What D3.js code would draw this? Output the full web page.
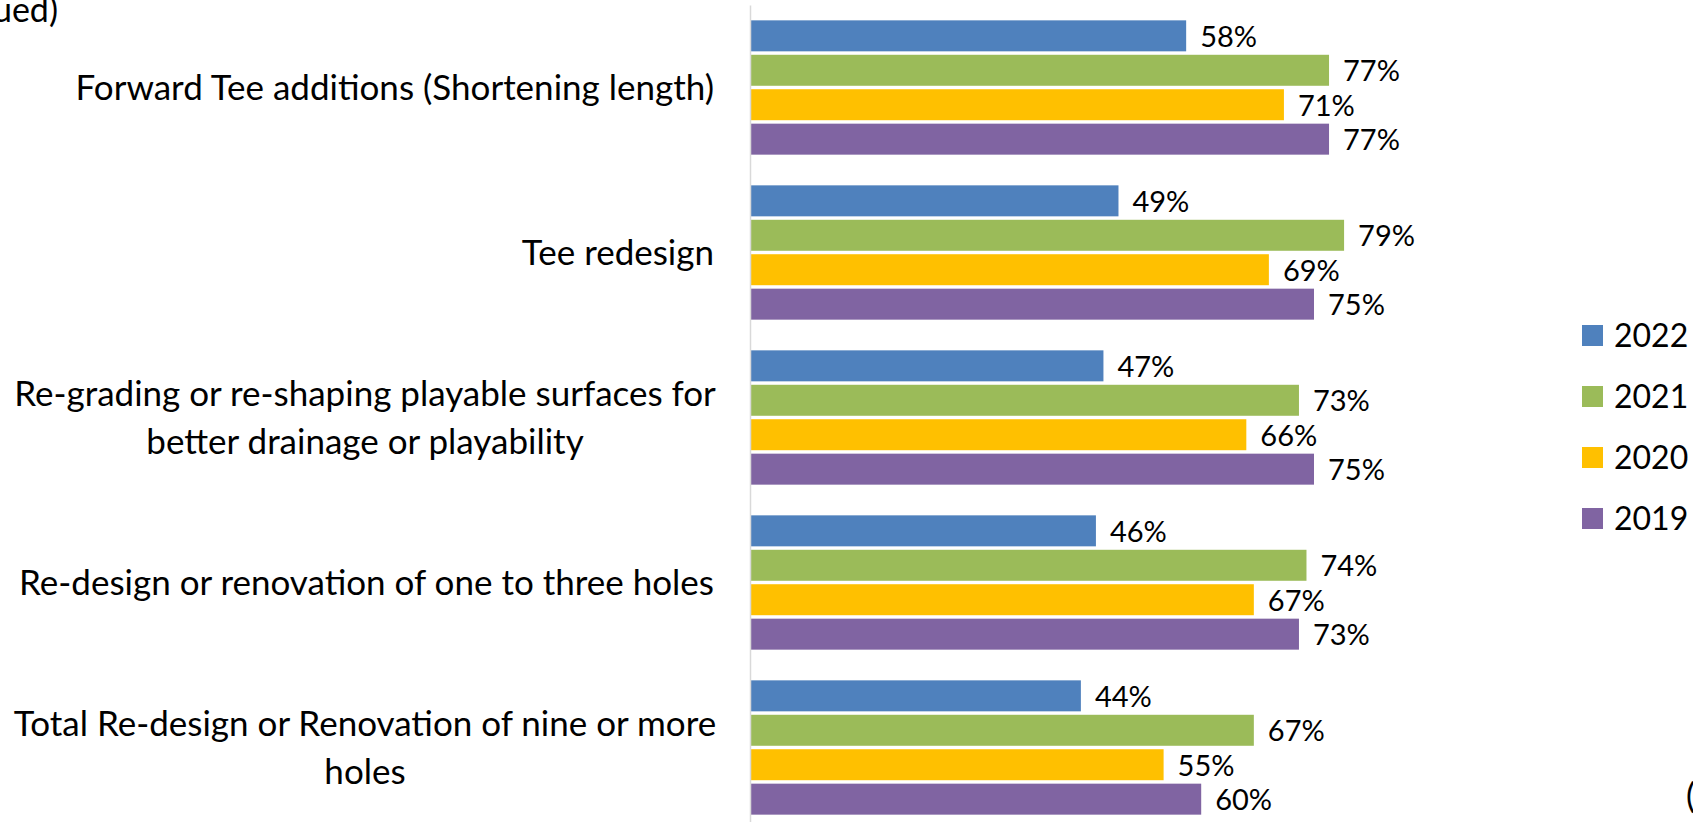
<!DOCTYPE html>
<html>
<head>
<meta charset="utf-8">
<script src="https://cdn.jsdelivr.net/npm/d3@7"></script>
<style>
  html, body { margin: 0; padding: 0; background: #fff; overflow: hidden; }
  svg { display: block; font-family: Lato, "Open Sans", sans-serif; }
</style>
</head>
<body>
<svg id="chart" width="1693" height="822"></svg>
<script>
const categories = [
  "Forward Tee additions (Shortening length)",
  "Tee redesign",
  "Re-grading or re-shaping playable surfaces for|better drainage or playability",
  "Re-design or renovation of one to three holes",
  "Total Re-design or Renovation of nine or more|holes"
];
const seriesNames = ["2022", "2021", "2020", "2019"];
const values2022 = [58, 49, 47, 46, 44];
const values2021 = [77, 79, 73, 74, 67];
const values2020 = [71, 69, 66, 67, 55];
const values2019 = [77, 75, 75, 73, 60];
const colors = ["#4F81BD", "#9BBB59", "#FFC000", "#8064A2"];

const seriesValues = [values2022, values2021, values2020, values2019];
const data = categories.map((c, i) => ({
  cat: c,
  vals: seriesNames.map((s, j) => ({ s, v: seriesValues[j][i], color: colors[j] }))
}));

const svg = d3.select("#chart");
const x0 = 750;
const x = d3.scaleLinear().domain([0, 100]).range([x0, x0 + 752]);
const y = d3.scaleBand().domain(categories).range([5, 830]).paddingInner(0.186).paddingOuter(0.093);
const yi = d3.scaleBand().domain(seriesNames).range([0, y.bandwidth()]).paddingInner(0.1).paddingOuter(0);

// partial title at top-left (cut off by the frame, as in the reference)
svg.append("text").attr("x", 58).attr("y", 22).attr("text-anchor", "end")
  .attr("font-size", 34).attr("fill", "#000").text("(continued)");

// bars
const groups = svg.append("g").selectAll("g").data(data).join("g")
  .attr("transform", d => `translate(0,${y(d.cat)})`);

groups.selectAll("rect").data(d => d.vals).join("rect")
  .attr("x", x(0))
  .attr("y", d => yi(d.s))
  .attr("width", d => x(d.v) - x(0))
  .attr("height", yi.bandwidth())
  .attr("fill", d => d.color);

groups.selectAll("text.val").data(d => d.vals).join("text")
  .attr("class", "val")
  .attr("x", d => x(d.v) + 14)
  .attr("y", d => yi(d.s) + yi.bandwidth() / 2)
  .attr("dy", "0.38em")
  .attr("font-size", 29)
  .attr("fill", "#000")
  .text(d => d.v + "%");

// axis line
const axis = d3.axisLeft(y).tickSize(0).tickFormat("");
const axisG = svg.append("g").attr("transform", `translate(${x0},0)`).call(axis);
axisG.select(".domain").attr("stroke", "#D9D9D9").attr("stroke-width", 1.5);

// category labels
const catFont = 35, lineH = 47.5;
svg.append("g").selectAll("text").data(categories).join("text")
  .attr("font-size", catFont)
  .attr("fill", "#000")
  .each(function (d) {
    const lines = d.split("|");
    const cy = y(d) + y.bandwidth() / 2;
    const t = d3.select(this);
    const single = lines.length === 1;
    lines.forEach((ln, k) => {
      t.append("tspan")
        .attr("x", single ? 714 : 365)
        .attr("text-anchor", single ? "end" : "middle")
        .attr("y", cy + (k - (lines.length - 1) / 2) * lineH)
        .attr("dy", "0.35em")
        .text(ln);
    });
  });

// legend
const leg = svg.append("g").selectAll("g").data(seriesNames).join("g")
  .attr("transform", (d, i) => `translate(1582,${325 + i * 61})`);
leg.append("rect").attr("width", 21).attr("height", 21)
  .attr("fill", (d, i) => colors[i]);
leg.append("text").attr("x", 32).attr("y", 10.5).attr("dy", "0.36em")
  .attr("font-size", 32).attr("fill", "#000").text(d => d);

// partial character at bottom-right (cut off by the frame, as in the reference)
svg.append("text").attr("x", 1686).attr("y", 808)
  .attr("font-size", 34).attr("fill", "#000").text("(");
</script>
</body>
</html>
